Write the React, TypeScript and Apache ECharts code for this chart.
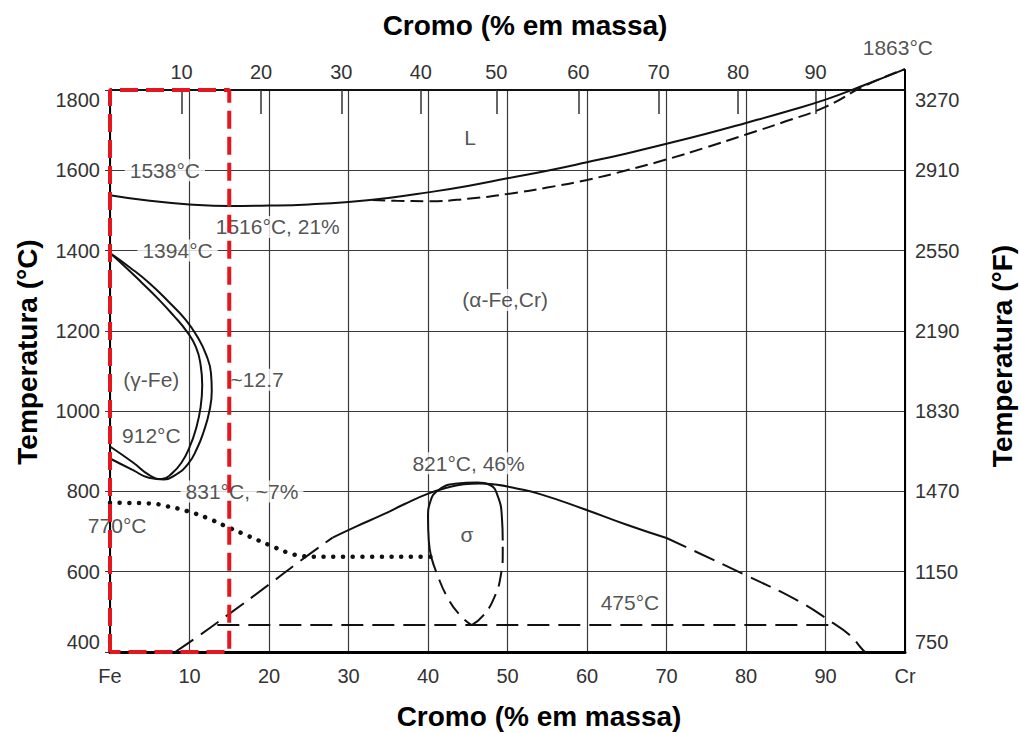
import React, { useEffect, useRef } from 'react';
import * as echarts from 'echarts';

// ---------- axis tick data ----------
const tempTicksC = [400, 600, 800, 1000, 1200, 1400, 1600, 1800];
const tempTicksF = ['750', '1150', '1470', '1830', '2190', '2550', '2910', '3270'];
const topTickPositions = [9.0, 19.0, 29.1, 39.1, 48.6, 58.9, 69.0, 79.0, 88.75];
const topTickLabels = ['10', '20', '30', '40', '50', '60', '70', '80', '90'];

// ---------- curves [wt% Cr, °C] ----------
const liquidus = [[0, 1538], [5, 1524], [10, 1515], [15, 1511], [20, 1512], [25, 1515], [30, 1521], [35, 1531], [40, 1545], [45, 1561], [50, 1580], [55, 1599], [60, 1620], [65, 1642], [70, 1666], [75, 1691], [80, 1718], [85, 1746], [90, 1776], [95, 1813], [100, 1852]];
const solidus = [[33, 1526], [36, 1524], [40, 1523], [45, 1529], [50, 1541], [55, 1557], [60, 1576], [65, 1600], [70, 1627], [75, 1657], [80, 1689], [85, 1722], [90, 1758], [95, 1811], [100, 1852]];
const gammaInner = [[0, 1394], [2, 1358], [4, 1320], [6, 1281], [8, 1238], [9.6, 1200], [10.8, 1160], [11.4, 1115], [11.6, 1065], [11.4, 1010], [10.8, 955], [10.0, 910], [9.0, 872], [7.8, 845], [6.5, 831], [5.0, 840], [2.9, 872], [0, 912]];
const gammaOuter = [[0, 1394], [2.5, 1358], [5, 1318], [7.5, 1270], [9.5, 1228], [11, 1185], [12.1, 1140], [12.7, 1095], [12.8, 1050], [12.5, 1000], [11.8, 950], [10.9, 905], [9.8, 868], [8.3, 842], [6.8, 830], [4.9, 834], [2.9, 853], [0, 882]];
const curieLine = [[0, 772], [5, 770], [7.2, 763], [9.7, 751], [12.2, 734], [14.7, 712], [17.5, 688], [20.2, 665], [22.6, 646], [24.2, 639], [25.6, 637], [40.5, 637]];
const domeLeftDashed = [[8.2, 400], [11, 438], [15, 495], [20, 568], [24, 628], [28, 685]];
const domeSolid = [[28, 685], [31, 713], [34.3, 742], [37, 768], [40.1, 795], [42.5, 810], [44.5, 818], [46.5, 820], [48.5, 817], [51, 808], [54, 794], [59.5, 757], [65, 717], [70, 684]];
const domeRightDashed = [[70, 684], [80, 591], [86.6, 527], [90.8, 474], [93, 443], [94.7, 405], [95, 400]];
const sigmaSolid = [[40.4, 637], [40.1, 677], [40.0, 734], [40.3, 775], [41.3, 803], [43.4, 819], [46.2, 822], [47.8, 816], [48.8, 787], [49.3, 734], [49.4, 678]];
const sigmaDashedLeft = [[40.4, 637], [41.1, 596], [42.5, 534], [44.1, 490], [45.5, 467]];
const sigmaDashedRight = [[45.5, 467], [46.9, 490], [48.3, 534], [49.2, 596], [49.4, 646], [49.4, 678]];
const line475 = [[13.5, 467], [90.8, 467]];
const highlightBox = [[0, 400], [0, 1800], [15, 1800], [15, 400], [0, 400]];
const crAxisExtension = [[100, 1800], [100, 1852]];

// ---------- annotations ----------
const boxedNotes = [
  { name: '1538°C', value: [6.9, 1600] },
  { name: '1516°C, 21%', value: [21.1, 1459] },
  { name: '1394°C', value: [8.5, 1400] },
  { name: '(α-Fe,Cr)', value: [49.7, 1277] },
  { name: '(γ-Fe)', value: [5.2, 1078] },
  { name: '~12.7', value: [18.5, 1078] },
  { name: '912°C', value: [5.2, 940] },
  { name: '831°C, ~7%', value: [16.6, 800] },
  { name: '821°C, 46%', value: [45.1, 870] },
  { name: '475°C', value: [65.4, 524] },
];
const plainNotes = [
  { name: 'L', value: [45.3, 1681] },
  { name: '770°C', value: [0.9, 715] },
  { name: 'σ', value: [44.9, 693] },
  { name: '1863°C', value: [99.1, 1905] },
];

const FONT = '"Liberation Sans", Arial, Helvetica, sans-serif';
const INK = '#111';

function curve(data: number[][], type: any, width = 2, extra: any = {}) {
  return {
    type: 'line',
    data,
    symbol: 'none',
    showSymbol: false,
    smooth: 0.5,
    clip: false,
    silent: true,
    z: 3,
    lineStyle: { color: INK, width, type },
    ...extra,
  };
}

function notes(data: any[], boxed: boolean) {
  return {
    type: 'scatter',
    data,
    symbol: 'circle',
    symbolSize: 1,
    clip: false,
    silent: true,
    z: 6,
    itemStyle: { color: 'rgba(0,0,0,0)' },
    label: {
      show: true,
      position: 'inside',
      formatter: '{b}',
      fontFamily: FONT,
      fontSize: 21,
      color: '#262626',
      backgroundColor: boxed ? '#fff' : 'transparent',
      padding: boxed ? [0, 5] : 0,
      lineHeight: 22,
    },
  };
}

export default function App() {
  const ref = useRef<HTMLDivElement>(null);
  useEffect(() => {
    const chart = echarts.init(ref.current!, null, { renderer: 'svg' });
    const option: any = {
      animation: false,
      backgroundColor: '#fff',
      grid: { left: 110, top: 90, width: 795, height: 562 },
      xAxis: [
        {
          type: 'value', position: 'bottom', min: 0, max: 100, interval: 10,
          axisLine: { show: true, onZero: false, lineStyle: { color: '#000', width: 3 } },
          axisTick: { show: false },
          axisLabel: {
            fontFamily: FONT, fontSize: 20, color: '#333', margin: 14,
            formatter: (v: number) => (v === 0 ? 'Fe' : v === 100 ? 'Cr' : String(v)),
          },
          splitLine: { show: true, lineStyle: { color: '#3a3a3a', width: 1.2 } },
        },
        {
          type: 'value', position: 'top', min: 0, max: 100,
          axisLine: { show: true, onZero: false, lineStyle: { color: '#111', width: 2 } },
          axisTick: { show: true, inside: true, length: 24, customValues: topTickPositions, lineStyle: { color: '#333', width: 1.5 } },
          axisLabel: {
            show: true, customValues: topTickPositions, fontFamily: FONT, fontSize: 20, color: '#333', margin: 8,
            formatter: (v: number) => {
              const i = topTickPositions.findIndex((p) => Math.abs(p - v) < 0.01);
              return i >= 0 ? topTickLabels[i] : '';
            },
          },
          splitLine: { show: false },
        },
      ],
      yAxis: [
        {
          type: 'value', position: 'left', min: 400, max: 1800, interval: 200,
          axisLine: { show: true, onZero: false, lineStyle: { color: '#000', width: 2 } },
          axisTick: { show: true, length: 5, lineStyle: { color: '#333' } },
          axisLabel: {
            fontFamily: FONT, fontSize: 20, color: '#333', margin: 10,
            verticalAlignMinLabel: 'bottom', verticalAlignMaxLabel: 'top',
            formatter: (v: number) => String(v),
          },
          splitLine: { show: true, lineStyle: { color: '#3a3a3a', width: 1.2 } },
        },
        {
          type: 'value', position: 'right', min: 400, max: 1800, interval: 200,
          axisLine: { show: true, onZero: false, lineStyle: { color: '#000', width: 2 } },
          axisTick: { show: false },
          axisLabel: {
            fontFamily: FONT, fontSize: 20, color: '#333', margin: 10,
            verticalAlignMinLabel: 'bottom', verticalAlignMaxLabel: 'top',
            formatter: (v: number) => {
              const i = tempTicksC.indexOf(v);
              return i >= 0 ? tempTicksF[i] : '';
            },
          },
          splitLine: { show: false },
        },
      ],
      series: [
        curve(liquidus, 'solid'),
        curve(solidus, [13, 6]),
        curve(gammaInner, 'solid'),
        curve(gammaOuter, 'solid'),
        curve(curieLine, [0.1, 9.6], 4.5, { lineStyle: { color: INK, width: 4.5, type: [0.1, 9.6], cap: 'round' } }),
        curve(domeLeftDashed, [22, 9]),
        curve(domeSolid, 'solid'),
        curve(domeRightDashed, [22, 9]),
        curve(sigmaSolid, 'solid'),
        curve(sigmaDashedLeft, [16, 8]),
        curve(sigmaDashedRight, [16, 8]),
        curve(line475, [22, 9], 2, { smooth: false }),
        curve(crAxisExtension, 'solid', 2, { smooth: false, lineStyle: { color: '#000', width: 2 } }),
        notes(boxedNotes, true),
        notes(plainNotes, false),
        curve(highlightBox, [18, 8], 4, { smooth: false, z: 10, lineStyle: { color: '#e3171d', width: 4, type: [18, 8] } }),
      ],
      graphic: [
        { type: 'text', x: 525, y: 25, style: { text: 'Cromo (% em massa)', font: `bold 28px ${FONT}`, fill: '#000', align: 'center', verticalAlign: 'middle' } },
        { type: 'text', x: 539, y: 716, style: { text: 'Cromo (% em massa)', font: `bold 28px ${FONT}`, fill: '#000', align: 'center', verticalAlign: 'middle' } },
        { type: 'text', x: 27, y: 352, rotation: Math.PI / 2, style: { text: 'Temperatura (°C)', font: `bold 28px ${FONT}`, fill: '#000', align: 'center', verticalAlign: 'middle' } },
        { type: 'text', x: 1002, y: 356, rotation: Math.PI / 2, style: { text: 'Temperatura (°F)', font: `bold 28px ${FONT}`, fill: '#000', align: 'center', verticalAlign: 'middle' } },
      ],
    };
    chart.setOption(option);
    return () => chart.dispose();
  }, []);
  return <div ref={ref} style={{ position: 'fixed', left: 0, top: 0, width: 1019, height: 733, background: '#fff' }} />;
}
